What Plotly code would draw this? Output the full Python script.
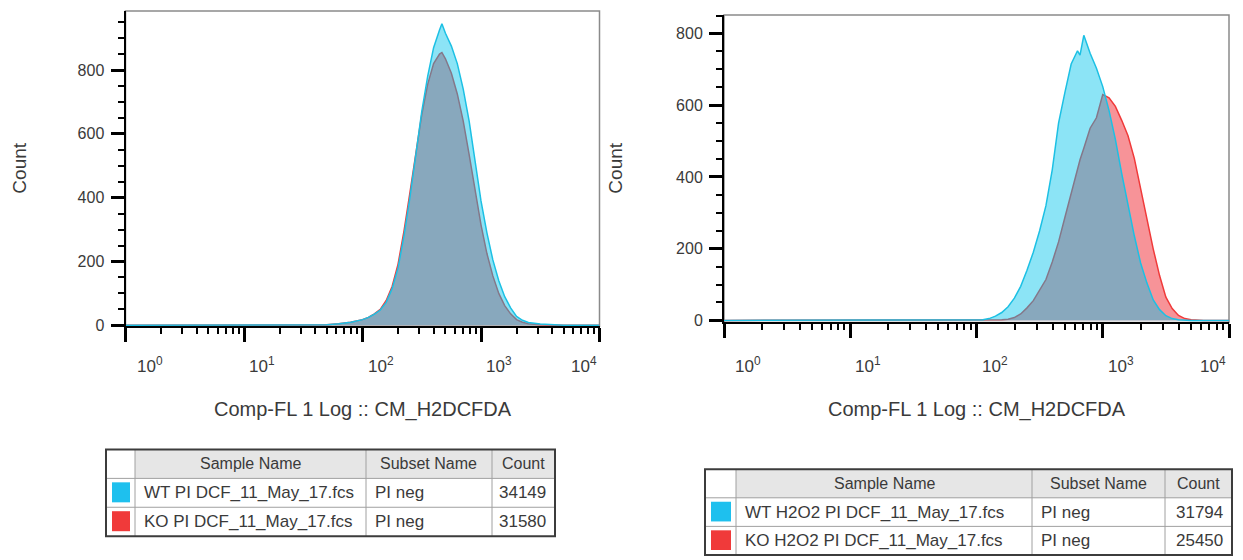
import math
import plotly.graph_objects as go

# The page body has an 8px margin, so the figure is drawn 8px in from the corner.
OFF = 8
W, H = 1243 - OFF, 560 - OFF

# ---------------- data ----------------
# bin positions given as log10(Comp-FL 1 intensity)
left_log10 = [0.0, 1.60, 1.70, 1.80, 1.90, 2.00, 2.05, 2.10, 2.15, 2.20, 2.25, 2.30, 2.35,
              2.40, 2.45, 2.50, 2.55, 2.60, 2.65, 2.67, 2.70, 2.75, 2.80, 2.85, 2.90, 2.95,
              3.00, 3.05, 3.10, 3.15, 3.20, 3.25, 3.30, 3.35, 3.40, 3.50, 3.60, 3.70, 4.0]
left_wt = [0, 0, 2, 5, 10, 18, 25, 35, 48, 72, 115, 180, 280, 400, 535, 670, 780, 870, 925,
           945, 915, 875, 820, 740, 640, 510, 390, 290, 205, 140, 90, 55, 28, 16, 9, 4, 2, 0, 0]
left_ko = [0, 0, 2, 5, 10, 18, 25, 36, 50, 78, 122, 192, 295, 415, 540, 660, 755, 820, 850,
           855, 835, 790, 725, 640, 535, 420, 315, 225, 155, 100, 62, 36, 18, 10, 5, 2, 1, 0, 0]

right_log10 = [0.0, 1.90, 2.00, 2.05, 2.10, 2.15, 2.20, 2.25, 2.30, 2.35, 2.40, 2.45, 2.50,
               2.55, 2.60, 2.65, 2.70, 2.75, 2.80, 2.82, 2.85, 2.90, 2.95, 3.00, 3.05, 3.10,
               3.15, 3.20, 3.25, 3.30, 3.35, 3.40, 3.45, 3.50, 3.55, 3.60, 3.65, 3.70, 3.80, 4.0]
right_wt = [0, 0, 1, 2, 5, 12, 22, 38, 62, 95, 140, 190, 250, 320, 420, 550, 635, 715, 752,
            740, 795, 745, 703, 652, 585, 505, 410, 322, 236, 160, 104, 57, 30, 13, 5, 2, 0,
            0, 0, 0]
right_ko = [0, 0, 0, 0, 1, 1, 2, 3, 8, 18, 35, 55, 83, 114, 163, 219, 287, 356, 425, 448,
            480, 536, 565, 630, 621, 597, 558, 515, 452, 368, 278, 199, 125, 65, 33, 14, 5,
            2, 0, 0]

decade_ticks = [1, 10, 100, 1000, 10000]
decade_labels = ["10<sup>0</sup>", "10<sup>1</sup>", "10<sup>2</sup>", "10<sup>3</sup>", "10<sup>4</sup>"]
count_ticks = [0, 200, 400, 600, 800]
x_title = "Comp-FL 1 Log :: CM_H2DCFDA"
y_title = "Count"

table_header = ["Sample Name", "Subset Name", "Count"]
left_samples = ["WT PI DCF_11_May_17.fcs", "KO PI DCF_11_May_17.fcs"]
left_subsets = ["PI neg", "PI neg"]
left_counts = ["34149", "31580"]
right_samples = ["WT H2O2 PI DCF_11_May_17.fcs", "KO H2O2 PI DCF_11_May_17.fcs"]
right_subsets = ["PI neg", "PI neg"]
right_counts = ["31794", "25450"]

# ---------------- styles ----------------
FONT = "Liberation Sans, Arial, sans-serif"
TXT = "#3a3a3a"
WT_LINE, WT_FILL = "#1cc0e4", "rgba(0,195,235,0.45)"
KO_LINE, KO_FILL = "#f03a3a", "rgba(240,40,50,0.50)"
SWATCH = ["#1ec0ee", "#f03a3a"]


def px(x):
    return (x - OFF) / W


def py(y):
    return 1 - (y - OFF) / H


fig = go.Figure()

panels = [
    dict(xa="x", ya="y", log=left_log10, wt=left_wt, ko=left_ko),
    dict(xa="x2", ya="y2", log=right_log10, wt=right_wt, ko=right_ko),
]
for p in panels:
    xs = [10 ** v for v in p["log"]]
    fig.add_trace(go.Scatter(x=xs, y=p["ko"], xaxis=p["xa"], yaxis=p["ya"], mode="lines",
                             line=dict(color=KO_LINE, width=1.5), fill="tozeroy",
                             fillcolor=KO_FILL, showlegend=False, hoverinfo="skip"))
    fig.add_trace(go.Scatter(x=xs, y=p["wt"], xaxis=p["xa"], yaxis=p["ya"], mode="lines",
                             line=dict(color=WT_LINE, width=1.5), fill="tozeroy",
                             fillcolor=WT_FILL, showlegend=False, hoverinfo="skip"))

minor_x = [m * 10 ** k for k in range(4) for m in range(2, 10)]

geom = {
    "left": dict(x0=125.5, x1=599.5, ytop=11, ybot=331, yrange=[-3, 985]),
    "right": dict(x0=724, x1=1229, ytop=15, ybot=327, yrange=[-5.5, 852]),
}


def xaxis_cfg(g):
    return dict(domain=[px(g["x0"]), px(g["x1"])], type="log", range=[0, 4],
                showgrid=False, zeroline=False, showline=True, linecolor="black", linewidth=2,
                ticks="outside", ticklen=14, tickwidth=3, tickcolor="black",
                tickmode="array", tickvals=decade_ticks, showticklabels=False,
                minor=dict(ticks="outside", ticklen=6, tickwidth=2, tickcolor="black",
                           tickmode="array", tickvals=minor_x))


def yaxis_cfg(g, anchor):
    return dict(domain=[py(g["ybot"]), py(g["ytop"])], range=g["yrange"], anchor=anchor,
                showgrid=False, zeroline=False, showline=True, linecolor="black", linewidth=2,
                ticks="outside", ticklen=13, tickwidth=3, tickcolor="black",
                tickmode="array", tickvals=count_ticks,
                tickfont=dict(family=FONT, size=16, color=TXT), ticklabelstandoff=3,
                minor=dict(ticks="outside", ticklen=6, tickwidth=2, tickcolor="black",
                           dtick=50))


fig.update_layout(
    width=W, height=H, autosize=False,
    margin=dict(l=0, r=0, t=0, b=0),
    paper_bgcolor="white", plot_bgcolor="white",
    xaxis=dict(anchor="y", **xaxis_cfg(geom["left"])),
    yaxis=yaxis_cfg(geom["left"], "x"),
    xaxis2=dict(anchor="y2", **xaxis_cfg(geom["right"])),
    yaxis2=yaxis_cfg(geom["right"], "x2"),
)

shapes = []
annotations = []

# grey frame around plot areas
for xr, yr in (("x domain", "y domain"), ("x2 domain", "y2 domain")):
    shapes.append(dict(type="rect", xref=xr, yref=yr, x0=0, x1=1, y0=0, y1=1,
                       line=dict(color="#8a8a8a", width=1.5), layer="below"))

# decade tick labels, axis titles
for name, xref in (("left", "x"), ("right", "x2")):
    g = geom[name]
    for i, (v, lab) in enumerate(zip(decade_ticks, decade_labels)):
        last = i == len(decade_ticks) - 1
        annotations.append(dict(x=math.log10(v), xref=xref, y=py(370), yref="paper",
                                text=lab, showarrow=False,
                                xanchor="right" if last else "left",
                                xshift=-1 if last else (9 if i == 0 else 3),
                                yanchor="middle",
                                font=dict(family=FONT, size=17, color=TXT)))
    annotations.append(dict(x=px((g["x0"] + g["x1"]) / 2), xref="paper", y=py(415),
                            yref="paper", text=x_title, showarrow=False, xanchor="center",
                            yanchor="middle", font=dict(family=FONT, size=20, color=TXT)))
    annotations.append(dict(x=px(20 if name == "left" else 616), xref="paper",
                            y=py((g["ytop"] + g["ybot"]) / 2), yref="paper", text=y_title,
                            textangle=-90, showarrow=False, xanchor="center", yanchor="middle",
                            font=dict(family=FONT, size=19, color=TXT)))


def add_table(cols, top, row_h, samples, subsets, counts):
    bottom = top + 3 * row_h
    # header fill
    shapes.append(dict(type="rect", xref="paper", yref="paper", x0=px(cols[1]), x1=px(cols[4]),
                       y0=py(top + row_h), y1=py(top), fillcolor="#e6e6e6",
                       line=dict(width=0), layer="below"))
    # inner grid
    for r in (1, 2):
        shapes.append(dict(type="line", xref="paper", yref="paper", x0=px(cols[0]),
                           x1=px(cols[4]), y0=py(top + r * row_h), y1=py(top + r * row_h),
                           line=dict(color="#a0a0a0", width=1)))
    for c in (1, 2, 3):
        shapes.append(dict(type="line", xref="paper", yref="paper", x0=px(cols[c]),
                           x1=px(cols[c]), y0=py(top), y1=py(bottom),
                           line=dict(color="#a0a0a0", width=1)))
    # outer border
    shapes.append(dict(type="rect", xref="paper", yref="paper", x0=px(cols[0]), x1=px(cols[4]),
                       y0=py(bottom), y1=py(top), line=dict(color="#3c3c3c", width=2)))
    # header text
    for c, txt in enumerate(table_header):
        annotations.append(dict(x=px((cols[c + 1] + cols[c + 2]) / 2), y=py(top + row_h / 2),
                                xref="paper", yref="paper", text=txt, showarrow=False,
                                xanchor="center", yanchor="middle",
                                font=dict(family=FONT, size=16, color=TXT)))
    for r in range(2):
        yc = top + (r + 1.5) * row_h
        rt = top + (r + 1) * row_h
        shapes.append(dict(type="rect", xref="paper", yref="paper", x0=px(cols[0] + 6),
                           x1=px(cols[1] - 5), y0=py(rt + row_h - 5), y1=py(rt + 4),
                           fillcolor=SWATCH[r], line=dict(width=0)))
        annotations.append(dict(x=px(cols[1] + 7), y=py(yc), xref="paper", yref="paper",
                                text=samples[r], showarrow=False, xanchor="left",
                                yanchor="middle", font=dict(family=FONT, size=17, color=TXT)))
        annotations.append(dict(x=px(cols[2] + 7), y=py(yc), xref="paper", yref="paper",
                                text=subsets[r], showarrow=False, xanchor="left",
                                yanchor="middle", font=dict(family=FONT, size=17, color=TXT)))
        annotations.append(dict(x=px(cols[4] - 7), y=py(yc), xref="paper", yref="paper",
                                text=counts[r], showarrow=False, xanchor="right",
                                yanchor="middle", font=dict(family=FONT, size=17, color=TXT)))


add_table([106, 135, 366, 492, 555], 456, 29.3, left_samples, left_subsets, left_counts)
add_table([705, 736, 1032, 1165, 1232], 476, 29.0, right_samples, right_subsets, right_counts)

fig.update_layout(shapes=shapes, annotations=annotations)
fig.write_html("out.html")
